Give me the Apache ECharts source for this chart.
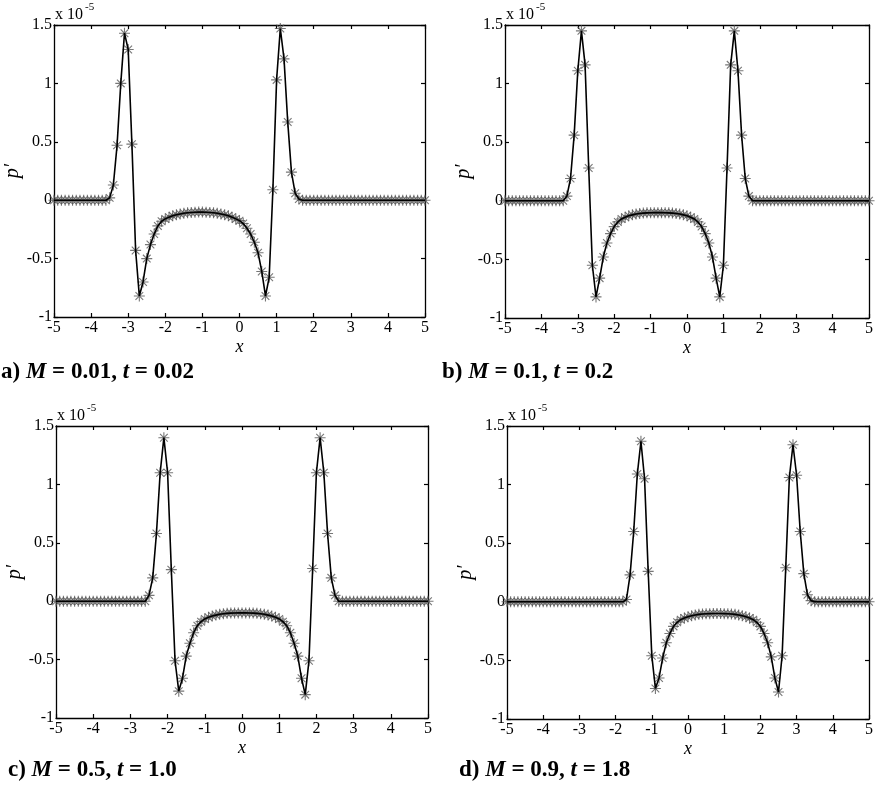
<!DOCTYPE html>
<html>
<head>
<meta charset="utf-8">
<script src="https://cdn.jsdelivr.net/npm/echarts@6/dist/echarts.min.js"></script>
<style>
html,body{margin:0;padding:0;background:#fff;}
#main{width:876px;height:792px;}
</style>
</head>
<body>
<div id="main"></div>
<script>
// sample positions (x), shared by all panels
const xGrid = [
 -5.0,-4.9,-4.8,-4.7,-4.6,-4.5,-4.4,-4.3,-4.2,-4.1,
 -4.0,-3.9,-3.8,-3.7,-3.6,-3.5,-3.4,-3.3,-3.2,-3.1,
 -3.0,-2.9,-2.8,-2.7,-2.6,-2.5,-2.4,-2.3,-2.2,-2.1,
 -2.0,-1.9,-1.8,-1.7,-1.6,-1.5,-1.4,-1.3,-1.2,-1.1,
 -1.0,-0.9,-0.8,-0.7,-0.6,-0.5,-0.4,-0.3,-0.2,-0.1,
  0.0, 0.1, 0.2, 0.3, 0.4, 0.5, 0.6, 0.7, 0.8, 0.9,
  1.0, 1.1, 1.2, 1.3, 1.4, 1.5, 1.6, 1.7, 1.8, 1.9,
  2.0, 2.1, 2.2, 2.3, 2.4, 2.5, 2.6, 2.7, 2.8, 2.9,
  3.0, 3.1, 3.2, 3.3, 3.4, 3.5, 3.6, 3.7, 3.8, 3.9,
  4.0, 4.1, 4.2, 4.3, 4.4, 4.5, 4.6, 4.7, 4.8, 4.9,
  5.0
];

// p' values in units of 1e-5
const pA = [
 0,0,0,0,0,0,0,0,0,0,
 0,0,0,0,0,0.02,0.13,0.47,1.00,1.43,
 1.29,0.48,-0.43,-0.82,-0.70,-0.50,-0.38,-0.29,-0.22,-0.18,
 -0.16,-0.145,-0.134,-0.125,-0.118,-0.112,-0.108,-0.105,-0.103,-0.102,
 -0.102,-0.103,-0.105,-0.108,-0.112,-0.118,-0.125,-0.134,-0.145,-0.16,
 -0.175,-0.20,-0.24,-0.29,-0.36,-0.45,-0.61,-0.82,-0.66,0.09,
 1.03,1.47,1.21,0.67,0.24,0.06,0.01,0,0,0,
 0,0,0,0,0,0,0,0,0,0,
 0,0,0,0,0,0,0,0,0,0,
 0,0,0,0,0,0,0,0,0,0,
 0
];
const pB = [
 0,0,0,0,0,0,0,0,0,0,
 0,0,0,0,0,0,0,0.04,0.19,0.56,
 1.11,1.45,1.16,0.28,-0.55,-0.82,-0.66,-0.48,-0.36,-0.28,
 -0.22,-0.18,-0.155,-0.14,-0.128,-0.12,-0.113,-0.108,-0.105,-0.103,
 -0.102,-0.101,-0.101,-0.101,-0.102,-0.103,-0.105,-0.108,-0.113,-0.12,
 -0.128,-0.14,-0.155,-0.18,-0.22,-0.28,-0.36,-0.48,-0.66,-0.82,
 -0.55,0.28,1.16,1.45,1.11,0.56,0.19,0.04,0,0,
 0,0,0,0,0,0,0,0,0,0,
 0,0,0,0,0,0,0,0,0,0,
 0,0,0,0,0,0,0,0,0,0,
 0
];
const pC = [
 0,0,0,0,0,0,0,0,0,0,
 0,0,0,0,0,0,0,0,0,0,
 0,0,0,0,0,0.05,0.20,0.58,1.10,1.40,
 1.10,0.27,-0.51,-0.77,-0.66,-0.47,-0.36,-0.27,-0.21,-0.175,
 -0.152,-0.138,-0.127,-0.119,-0.112,-0.107,-0.104,-0.102,-0.101,-0.100,
 -0.100,-0.100,-0.101,-0.102,-0.104,-0.107,-0.112,-0.119,-0.127,-0.138,
 -0.152,-0.175,-0.21,-0.27,-0.36,-0.47,-0.66,-0.80,-0.51,0.28,
 1.10,1.40,1.10,0.58,0.20,0.05,0,0,0,0,
 0,0,0,0,0,0,0,0,0,0,
 0,0,0,0,0,0,0,0,0,0,
 0
];
const pD = [
 0,0,0,0,0,0,0,0,0,0,
 0,0,0,0,0,0,0,0,0,0,
 0,0,0,0,0,0,0,0,0,0,
 0,0,0,0.02,0.23,0.60,1.09,1.37,1.05,0.26,
 -0.46,-0.74,-0.65,-0.48,-0.35,-0.27,-0.21,-0.175,-0.152,-0.138,
 -0.127,-0.119,-0.112,-0.107,-0.104,-0.102,-0.101,-0.100,-0.100,-0.100,
 -0.101,-0.102,-0.104,-0.107,-0.112,-0.119,-0.127,-0.138,-0.152,-0.175,
 -0.21,-0.27,-0.35,-0.47,-0.65,-0.77,-0.46,0.29,1.06,1.34,
 1.08,0.60,0.24,0.06,0.01,0,0,0,0,0,
 0,0,0,0,0,0,0,0,0,0,
 0
];

const panelData = [pA, pB, pC, pD];
const captions = [
  ['a) ', 'M', ' = 0.01, ', 't', ' = 0.02'],
  ['b) ', 'M', ' = 0.1, ', 't', ' = 0.2'],
  ['c) ', 'M', ' = 0.5, ', 't', ' = 1.0'],
  ['d) ', 'M', ' = 0.9, ', 't', ' = 1.8']
];
const xTicks = {min: -5, max: 5, interval: 1};
const yTicks = {min: -1, max: 1.5, interval: 0.5};

const grids = [
  {left: 54, top: 25, width: 371, height: 292},
  {left: 505, top: 25, width: 371, height: 293},
  {left: 56, top: 426, width: 372, height: 292},
  {left: 507, top: 426, width: 371, height: 293}
];
const capPos = [[1, 361], [442, 361], [8, 759], [459, 759]];

const FONT = '"Liberation Serif", "Times New Roman", serif';
const starPath = 'path://M5,0L5,10M0,5L10,5M1.5,1.5L8.5,8.5M1.5,8.5L8.5,1.5';

const option = {
  animation: false,
  backgroundColor: '#fff',
  grid: grids.map(g => Object.assign({containLabel: false}, g)),
  xAxis: [], yAxis: [], series: [], graphic: []
};

const axLine = {show: true, onZero: false, lineStyle: {color: '#000', width: 1.3}};
const axTick = {show: true, inside: true, length: 4, lineStyle: {color: '#000', width: 1.2}};

grids.forEach((g, i) => {
  option.xAxis.push({
    type: 'value', gridIndex: i, position: 'bottom',
    min: xTicks.min, max: xTicks.max, interval: xTicks.interval,
    axisLine: axLine, axisTick: axTick, splitLine: {show: false},
    axisLabel: {color: '#000', fontFamily: FONT, fontSize: 16, margin: 3},
    name: 'x', nameLocation: 'middle', nameGap: 21,
    nameTextStyle: {color: '#000', fontFamily: FONT, fontSize: 18, fontStyle: 'italic'}
  });
  option.xAxis.push({
    type: 'value', gridIndex: i, position: 'top',
    min: xTicks.min, max: xTicks.max, interval: xTicks.interval,
    axisLine: axLine, axisTick: axTick, splitLine: {show: false},
    axisLabel: {show: false}
  });
  option.yAxis.push({
    type: 'value', gridIndex: i, position: 'left',
    min: yTicks.min, max: yTicks.max, interval: yTicks.interval,
    axisLine: axLine, axisTick: axTick, splitLine: {show: false},
    axisLabel: {color: '#000', fontFamily: FONT, fontSize: 16, margin: 2},
    name: 'p\u2032', nameLocation: 'middle', nameGap: 24, nameRotate: 90,
    nameTextStyle: {color: '#000', fontFamily: FONT, fontSize: 20, fontStyle: 'italic'}
  });
  option.yAxis.push({
    type: 'value', gridIndex: i, position: 'right',
    min: yTicks.min, max: yTicks.max, interval: yTicks.interval,
    axisLine: axLine, axisTick: axTick, splitLine: {show: false},
    axisLabel: {show: false}
  });
  const pts = xGrid.map((x, k) => [x, panelData[i][k]]);
  option.series.push({
    type: 'scatter', xAxisIndex: 2 * i, yAxisIndex: 2 * i,
    data: pts, symbol: starPath, symbolSize: 11,
    itemStyle: {color: 'rgba(0,0,0,0)', borderColor: '#555', borderWidth: 1.1},
    z: 2, silent: true
  });
  option.series.push({
    type: 'line', xAxisIndex: 2 * i, yAxisIndex: 2 * i,
    data: pts, showSymbol: false, symbol: 'none',
    lineStyle: {color: '#000', width: 1.6}, z: 3, silent: true
  });
  // exponent label
  option.graphic.push({
    type: 'text', left: g.left + 1, top: g.top - 18,
    style: {text: 'x 10', font: '16px ' + FONT, fill: '#000'}
  });
  option.graphic.push({
    type: 'text', left: g.left + 31, top: g.top - 23,
    style: {text: '-5', font: '11px ' + FONT, fill: '#000'}
  });
  // caption
  const c = captions[i];
  option.graphic.push({
    type: 'text', left: capPos[i][0], top: capPos[i][1],
    style: {
      text: '{n|' + c[0] + '}{i|' + c[1] + '}{n|' + c[2] + '}{i|' + c[3] + '}{n|' + c[4] + '}',
      rich: {
        n: {font: 'bold 23px ' + FONT, fill: '#000'},
        i: {font: 'italic bold 23px ' + FONT, fill: '#000'}
      }
    }
  });
});

const chart = echarts.init(document.getElementById('main'), null, {renderer: 'canvas'});
chart.setOption(option);
</script>
</body>
</html>
